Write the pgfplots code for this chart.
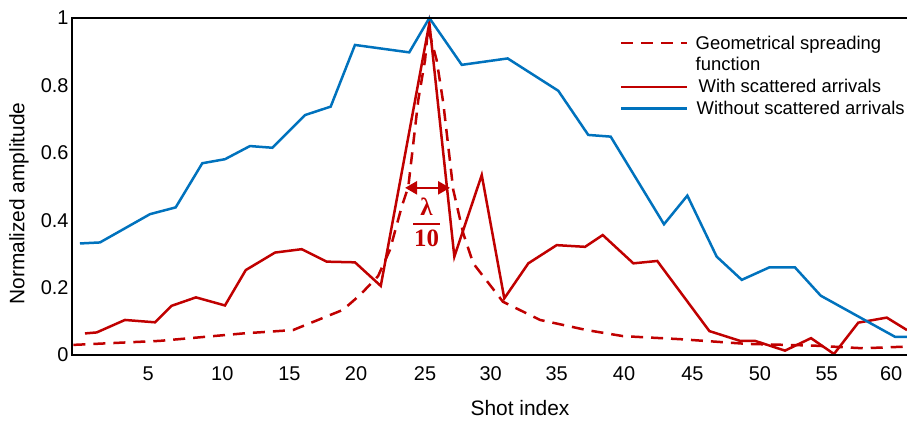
\documentclass[border=0pt]{standalone}
\usepackage{pgfplots}
\pgfplotsset{compat=1.18}
\usepackage{fontspec}
\setmainfont{Liberation Sans}
\newfontfamily\lamfont{Liberation Serif}
\usetikzlibrary{arrows.meta}
\definecolor{myred}{RGB}{192,0,0}
\definecolor{myblue}{RGB}{0,114,189}
\begin{document}
\begin{tikzpicture}
\begin{axis}[
  scale only axis, width=835bp, height=337bp,
  xmin=-1.111, xmax=60.74, ymin=0, ymax=1,
  axis line style={draw=none},
  major tick length=0pt,
  xtick={4.54,10.02,14.99,19.93,25.04,29.90,34.79,39.78,44.84,49.85,54.79,59.56},
  xticklabels={5,10,15,20,25,30,35,40,45,50,55,60},
  ytick={0,0.2,0.4,0.6,0.8,1},
  yticklabels={0,0.2,0.4,0.6,0.8,1},
  /pgf/number format/assume math mode=true,
  tick label style={font=\fontsize{20}{24}\selectfont},
  xticklabel style={yshift=-8bp},
  xlabel={Shot index},
  ylabel={Normalized amplitude},
  label style={font=\fontsize{21}{25}\selectfont},
  xlabel style={at={(axis description cs:0.5365,-0.1573)}, anchor=center},
  ylabel style={at={(axis description cs:-0.0635,0.4496)}, anchor=center},
  clip=false,
  legend style={at={(axis description cs:0.6563,0.954)}, anchor=north west, draw=none, fill=none,
    font=\fontsize{18.5}{21.5}\selectfont, inner sep=0pt, row sep=3bp, column sep=5bp},
  legend image code/.code={\draw[#1] (0bp,0bp) -- (66bp,0bp);},
  legend cell align=left,
]
\addplot[myred, line width=2.5bp, dash pattern=on 12bp off 8bp] coordinates {
(-1.01,0.030) (5.41,0.042) (11.56,0.064) (15.26,0.074) (18.96,0.134)
(20.22,0.178) (21.56,0.234) (22.44,0.312) (23.31,0.440) (23.80,0.499)
(24.54,0.757) (25.04,0.875) (25.26,0.970) (25.90,0.875) (26.39,0.748)
(27.13,0.490) (27.87,0.361) (28.61,0.272) (30.81,0.158) (33.56,0.104)
(37.01,0.074) (39.70,0.056) (43.93,0.047) (48.87,0.033) (53.78,0.028)
(57.48,0.020) (60.74,0.025)};
\addlegendentry{Geometrical spreading}
\addlegendimage{empty legend}
\addlegendentry{function}
\addplot[myred, line width=2.5bp] coordinates {
(-0.15,0.064) (0.72,0.067) (2.81,0.104) (5.04,0.097) (6.27,0.146)
(8.07,0.171) (10.22,0.147) (11.76,0.252) (13.93,0.304) (15.90,0.314)
(17.76,0.277) (19.85,0.275) (21.76,0.205) (25.36,0.985) (27.21,0.292)
(29.24,0.534) (30.91,0.168) (32.69,0.272) (34.79,0.326) (36.89,0.321)
(38.20,0.356) (40.47,0.272) (42.24,0.279) (46.10,0.071) (48.37,0.042)
(49.48,0.042) (51.70,0.013) (53.63,0.050) (55.33,0.003) (57.13,0.096)
(59.24,0.111) (60.74,0.074)};
\addlegendentry{\hspace*{3bp}With scattered arrivals}
\addplot[myblue, line width=2.5bp] coordinates {
(-0.52,0.331) (0.96,0.334) (4.67,0.418) (6.57,0.438) (8.54,0.569)
(10.22,0.581) (12.07,0.620) (13.73,0.615) (16.15,0.712) (18.05,0.737)
(19.85,0.920) (23.87,0.898) (25.36,1.000) (27.76,0.861) (31.16,0.880)
(34.91,0.784) (37.13,0.653) (38.79,0.648) (42.74,0.388) (44.47,0.473)
(46.64,0.292) (48.50,0.223) (50.54,0.260) (52.44,0.260) (54.35,0.176)
(59.85,0.054) (60.74,0.054)};
\addlegendentry{\hspace*{1bp}Without scattered arrivals}
\draw[black, line width=2.5bp] (axis description cs:1,1) -- (axis description cs:0,1) -- (axis description cs:0,0) -- (axis description cs:1,0);
\draw[myred, line width=2.5bp, <->, >={Triangle[length=12bp,width=13bp]}] (axis cs:23.56,0.496) -- (axis cs:26.89,0.496);
\end{axis}
\node[text=myred, font=\lamfont\bfseries\fontsize{25}{29}\selectfont, inner sep=0pt] at ([shift={(354.5bp,148bp)}]current axis.south west) {λ};
\draw[myred, line width=2.5bp] ([shift={(341bp,131bp)}]current axis.south west) -- ([shift={(368bp,131bp)}]current axis.south west);
\node[text=myred, font=\lamfont\bfseries\fontsize{25}{29}\selectfont, inner sep=0pt] at ([shift={(354.5bp,117bp)}]current axis.south west) {10};
\pgfresetboundingbox
\path[use as bounding box] ([shift={(-72bp,-66bp)}]current axis.south west) rectangle ([shift={(0bp,18bp)}]current axis.north east);
\end{tikzpicture}
\end{document}
